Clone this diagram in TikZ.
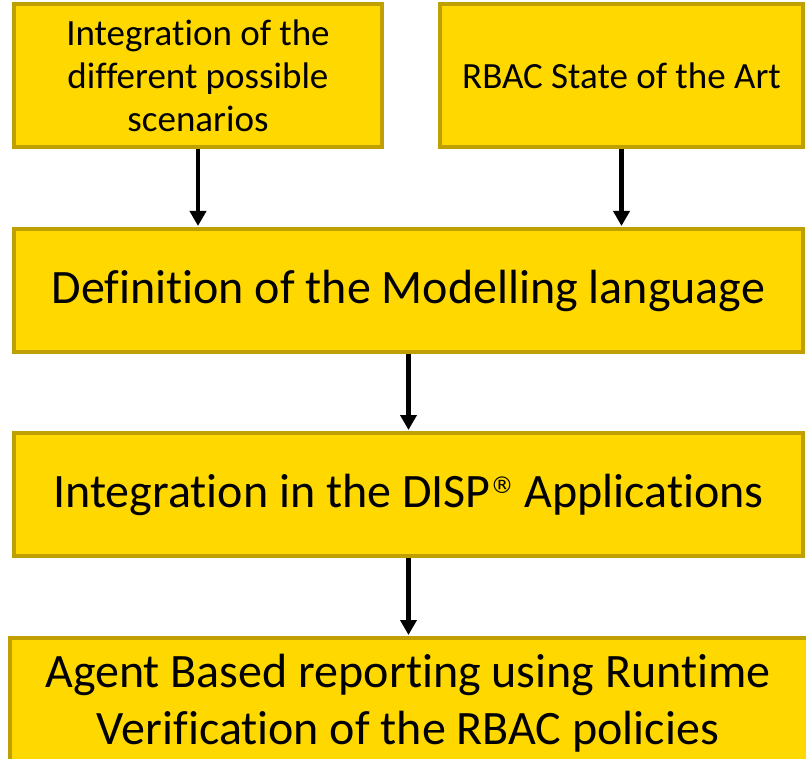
\documentclass[tikz,border=0pt]{standalone}
\usepackage{fontspec}
\setmainfont[Ligatures=NoCommon]{Carlito}
\newfontfamily\symfont{DejaVu Sans}
\usetikzlibrary{arrows.meta}
\definecolor{boxfill}{HTML}{FFD800}
\definecolor{boxline}{HTML}{BFA000}
\newcommand{\regmark}{\raisebox{14pt}{\symfont\fontsize{23}{23}\selectfont ®}}
\tikzset{
  box/.style={draw=boxline, fill=boxfill, line width=4pt, rectangle, inner sep=0pt, align=center, text=black},
  flow/.style={-{Triangle[length=15pt,width=16pt]}, line width=4.5pt, black, shorten >=1pt}
}
\begin{document}
\begin{tikzpicture}[x=1pt,y=-1pt]
\useasboundingbox (0,0) rectangle (806,759);
\clip (0,0) rectangle (806,759);
\node[box, minimum width=368pt, minimum height=143pt, font=\fontsize{37}{43}\selectfont] (a) at (198,75.5) {Integration of the\\different possible\\scenarios};
\node[box, minimum width=363pt, minimum height=143pt, font=\fontsize{37}{43}\selectfont] (b) at (621.5,75.5) {RBAC State of the Art};
\node[box, minimum width=789pt, minimum height=123pt, font=\fontsize{48}{57}\selectfont] (c) at (408.5,290.5) {Definition of the Modelling language};
\node[box, minimum width=789pt, minimum height=123pt, font=\fontsize{48}{57}\selectfont] (d) at (408.5,494.5) {Integration in the DISP\regmark{} Applications};
\node[box, minimum width=800pt, minimum height=150pt, font=\fontsize{48}{57}\selectfont] (e) at (410,713) {};
\node[font=\fontsize{48}{57}\selectfont, align=center, inner sep=0pt] (etext) at (408,703) {Agent Based reporting using Runtime\\Verification of the RBAC policies};
\draw[flow] (a.south) -- (a.south |- c.north);
\draw[flow] (b.south) -- (b.south |- c.north);
\draw[flow] (c.south) -- (d.north);
\draw[flow] (d.south) -- (d.south |- e.north);
\end{tikzpicture}
\end{document}
